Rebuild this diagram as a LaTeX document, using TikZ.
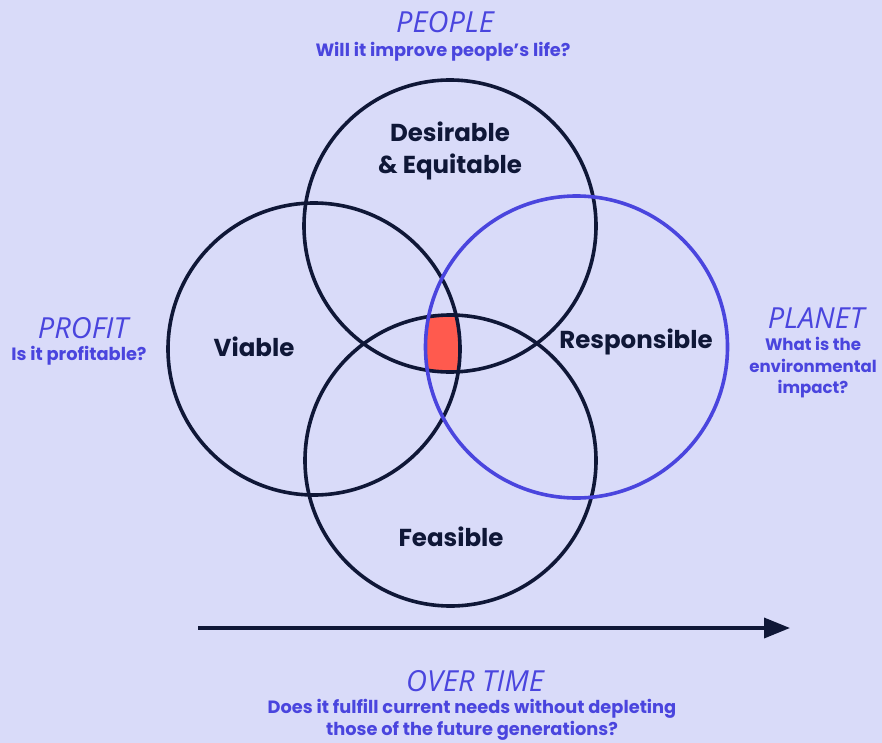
\documentclass[tikz,border=0pt]{standalone}
\usepackage{fontspec}
\setmainfont{Poppins}
\newfontfamily\handfont{Open Sans}
\usetikzlibrary{arrows.meta}
\definecolor{bg}{HTML}{D9DBF9}
\definecolor{navy}{HTML}{0F1737}
\definecolor{vio}{HTML}{4A45DE}
\definecolor{hot}{HTML}{FF5A4E}
\tikzset{
  ring/.style={draw=navy, line width=3.6pt},
  bluering/.style={draw=vio, line width=3.6pt},
  head/.style={text=vio, font=\handfont\itshape\fontsize{29}{32}\selectfont, inner sep=0pt},
  quest/.style={text=vio, font=\bfseries\fontsize{17.8}{21.8}\selectfont, align=center, inner sep=0pt},
  lab/.style={text=navy, font=\bfseries\fontsize{24.5}{32}\selectfont, align=center, inner sep=0pt},
}
\begin{document}
\begin{tikzpicture}[x=1pt,y=-1pt]
\useasboundingbox (0,0) rectangle (882,743);
\fill[bg] (0,0) rectangle (882,743);
\coordinate (cT) at (450,226);
\coordinate (cL) at (314,349);
\coordinate (cR) at (576.5,347);
\coordinate (cB) at (450.5,460.5);
\begin{scope}
  \clip (cT) circle[radius=146pt];
  \clip (cL) circle[radius=146pt];
  \clip (cR) circle[radius=151pt];
  \clip (cB) circle[radius=145.5pt];
  \fill[hot] (400,290) rectangle (500,400);
\end{scope}
\draw[ring] (cT) circle[radius=146pt];
\draw[ring] (cL) circle[radius=146pt];
\draw[ring] (cB) circle[radius=145.5pt];
\draw[bluering] (cR) circle[radius=151pt];
% arrow
\coordinate (a0) at (198,628);
\coordinate (a1) at (790,628);
\draw[navy, line width=3.6pt, -{Triangle[length=26pt,width=20pt]}] (a0) -- (a1);
% labels
\node[lab] (des) at (450,151) {Desirable\\\& Equitable};
\node[lab] (via) at (254,347) {Viable};
\node[lab] (res) at (636,342) {Responsible};
\node[lab] (fea) at (451,537) {Feasible};
% headings
\node[head] (people) at (445,22) {PEOPLE};
\node[quest] (qp) at (443,52) {Will it improve people’s life?};
\node[head] (profit) at (83,328) {PROFIT};
\node[quest] (qf) at (79,356) {Is it profitable?};
\node[head] (planet) at (816,318) {PLANET};
\node[quest, font=\bfseries\fontsize{16.6}{21.5}\selectfont] (qn) at (813,368) {What is the\\environmental\\impact?};
\node[head] (time) at (475,681) {OVER TIME};
\node[quest] (qt) at (472,720) {Does it fulfill current needs without depleting\\those of the future generations?};
\end{tikzpicture}
\end{document}
